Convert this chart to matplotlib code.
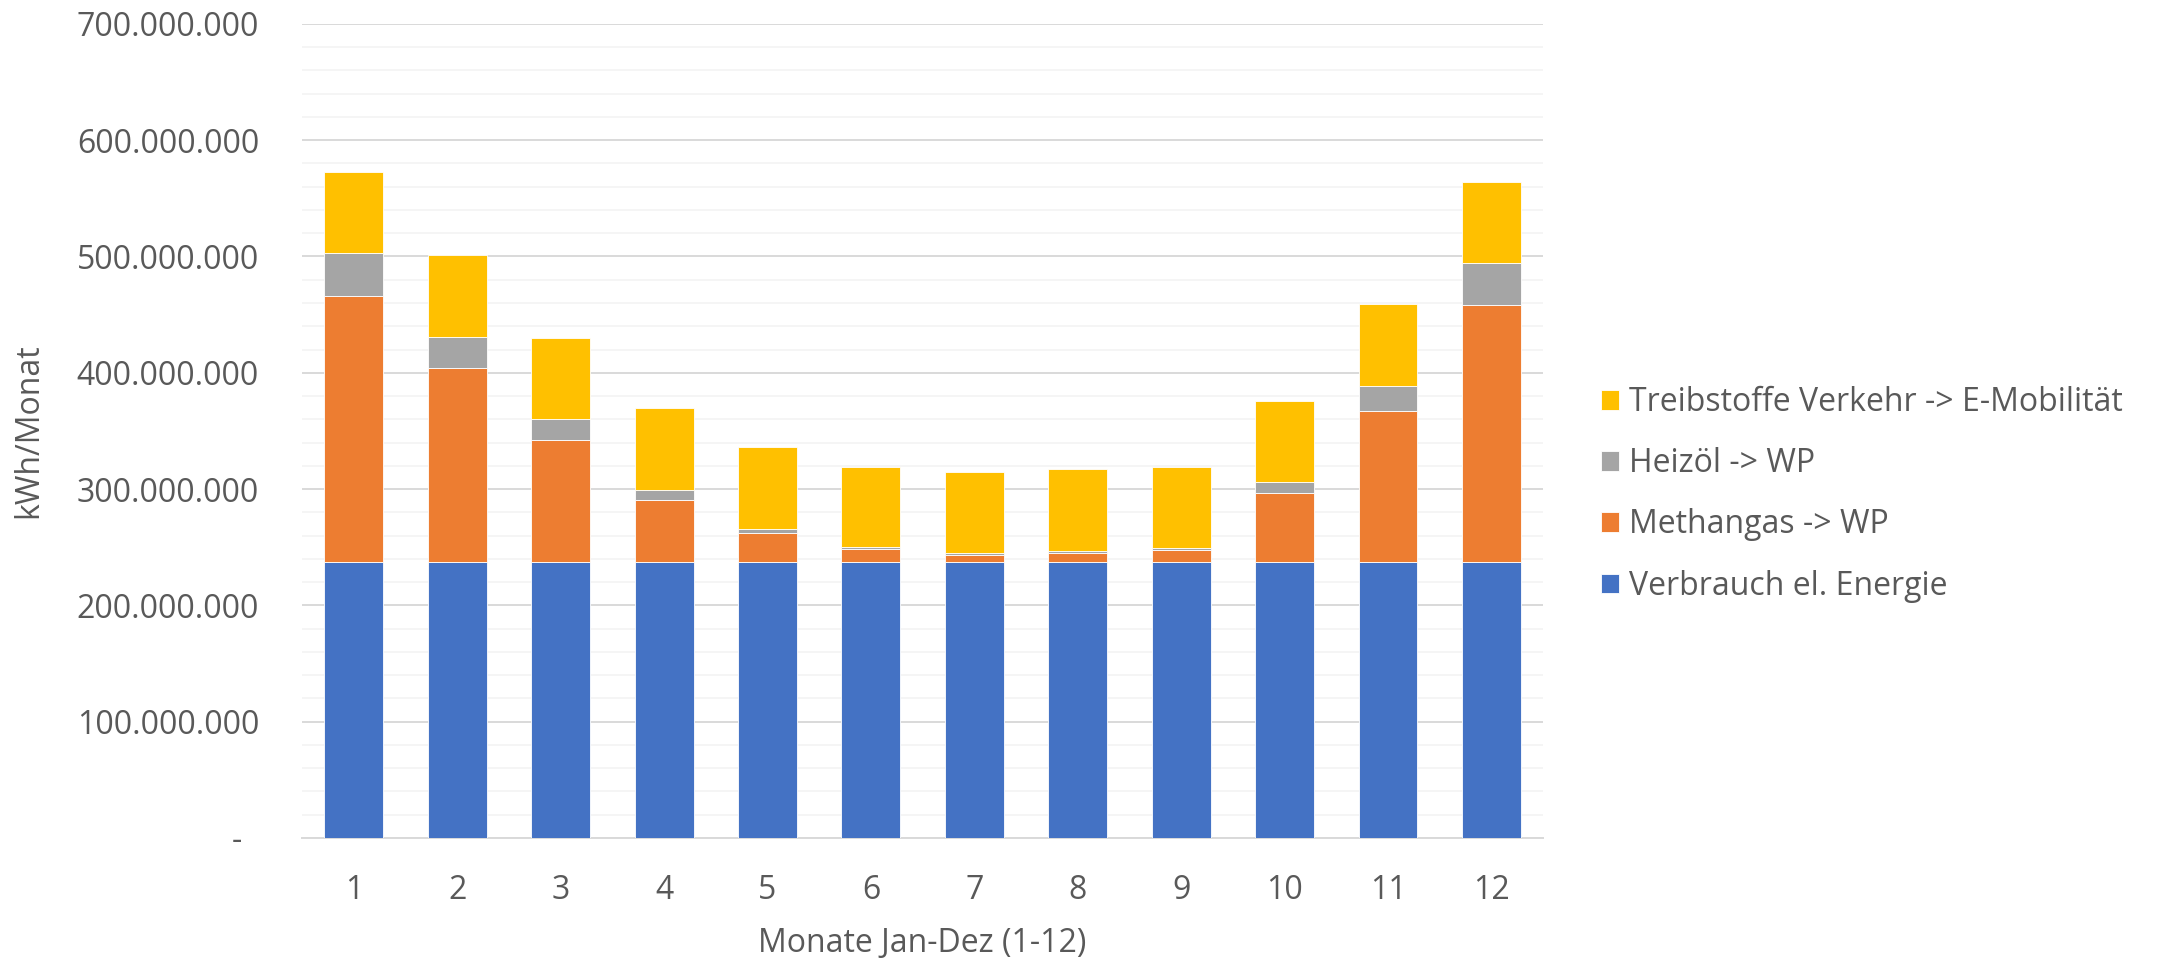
import matplotlib.pyplot as plt
import numpy as np
from matplotlib.ticker import FuncFormatter, MultipleLocator

# monthly energy demand in million kWh, stacked bottom -> top
monate = ["1", "2", "3", "4", "5", "6", "7", "8", "9", "10", "11", "12"]
verbrauch_el = [237.5, 237.5, 237.5, 237.5, 237.5, 237.5, 237.5, 237.5, 237.5, 237.5, 237.5, 237.5]
methangas_wp = [228.5, 166.5, 105.0, 53.5, 24.4, 10.6, 6.1, 7.8, 9.8, 58.8, 130.0, 221.1]
heizoel_wp = [37.0, 27.0, 17.5, 8.5, 4.0, 1.8, 1.4, 1.4, 2.0, 9.4, 21.3, 35.7]
treibstoffe = [70.0, 70.0, 70.0, 70.0, 70.0, 69.3, 69.6, 70.2, 69.6, 70.0, 70.4, 70.1]

serien = [
    ("Verbrauch el. Energie", verbrauch_el, "#4472C4"),
    ("Methangas -> WP", methangas_wp, "#ED7D31"),
    ("Heizöl -> WP", heizoel_wp, "#A5A5A5"),
    ("Treibstoffe Verkehr -> E-Mobilität", treibstoffe, "#FFC000"),
]

TEXT = "#595959"
plt.rcParams["font.family"] = ["Open Sans", "DejaVu Sans"]
plt.rcParams["font.size"] = 23

fig = plt.figure(figsize=(21.64, 9.6), dpi=100)
ax = fig.add_axes([0.1396, 0.1271, 0.5735, 0.848])

x = np.arange(1, len(monate) + 1)
unten = np.zeros(len(monate))
handles = []
for name, werte, farbe in serien:
    werte = np.array(werte) * 1e6
    h = ax.bar(x, werte, width=0.57, bottom=unten, color=farbe,
               edgecolor="white", linewidth=0.6, label=name, zorder=3)
    handles.append(h)
    unten += werte

ax.set_xlim(0.5, 12.5)
ax.set_ylim(0, 700e6)
ax.set_xticks(x)
ax.set_xticklabels(monate)

ax.yaxis.set_major_locator(MultipleLocator(100e6))
ax.yaxis.set_minor_locator(MultipleLocator(20e6))
ax.yaxis.set_major_formatter(FuncFormatter(
    lambda v, pos: "-  " if v == 0 else f"{int(round(v)):,}".replace(",", ".")))

ax.grid(axis="y", which="major", color="#D9D9D9", linewidth=1.4, zorder=0)
ax.grid(axis="y", which="minor", color="#F2F2F2", linewidth=1.1, zorder=0)
ax.set_axisbelow(True)

for side in ("top", "right", "left"):
    ax.spines[side].set_visible(False)
ax.spines["bottom"].set_color("#D9D9D9")
ax.spines["bottom"].set_linewidth(1.4)

ax.tick_params(axis="y", which="both", length=0, pad=31, colors=TEXT)
ax.tick_params(axis="x", length=0, pad=26, colors=TEXT)

ax.set_ylabel("kWh/Monat", color=TEXT)
ax.yaxis.set_label_coords(-0.207, 0.5)
ax.set_xlabel("Monate Jan-Dez (1-12)", color=TEXT, labelpad=14)

fig.legend(handles[::-1], [s[0] for s in serien][::-1],
           loc="center left", bbox_to_anchor=(0.7325, 0.485),
           frameon=False, borderpad=0, handlelength=0.56, handleheight=0.56,
           handletextpad=0.3, labelspacing=0.88, labelcolor=TEXT)

fig.savefig("out.png", dpi=100)
